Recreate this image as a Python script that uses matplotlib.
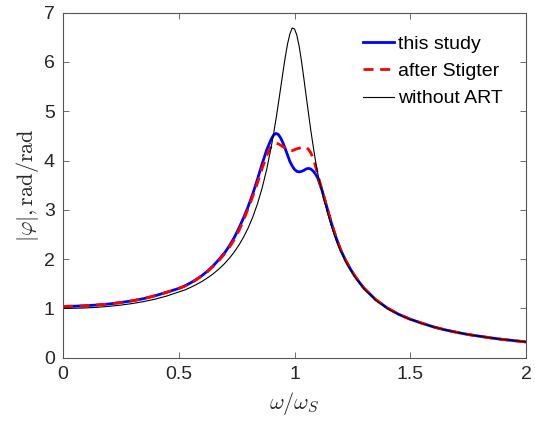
import numpy as np
import matplotlib
matplotlib.use('Agg')
import matplotlib.pyplot as plt

plt.rcParams['font.family'] = ['Liberation Sans', 'DejaVu Sans']
plt.rcParams['mathtext.fontset'] = 'cm'

# frequency ratio omega/omega_S
freq = [0.00, 0.05, 0.10, 0.15, 0.20, 0.25, 0.30, 0.35, 0.40, 0.45, 0.50,
        0.525, 0.55, 0.575, 0.60, 0.625, 0.65, 0.675, 0.70,
        0.72, 0.74, 0.76, 0.78, 0.80, 0.82, 0.84, 0.86, 0.88,
        0.90, 0.91, 0.92, 0.93, 0.94, 0.95, 0.96, 0.97, 0.98, 0.99, 1.00,
        1.01, 1.02, 1.03, 1.04, 1.05, 1.06, 1.07, 1.08, 1.09, 1.10,
        1.12, 1.14, 1.16, 1.18, 1.20, 1.22, 1.24, 1.26, 1.28, 1.30,
        1.35, 1.40, 1.45, 1.50, 1.55, 1.60, 1.65, 1.70, 1.75, 1.80, 1.85, 1.90, 1.95, 2.00]

# |phi|
this_study = [1.04, 1.045, 1.055, 1.07, 1.09, 1.12, 1.155, 1.20, 1.26, 1.33, 1.405,
              1.455, 1.515, 1.585, 1.665, 1.76, 1.87, 2.00, 2.14,
              2.28, 2.44, 2.63, 2.84, 3.07, 3.33, 3.62, 3.93, 4.22,
              4.44, 4.52, 4.55, 4.53, 4.46, 4.36, 4.24, 4.11, 3.98, 3.89, 3.82,
              3.78, 3.77, 3.78, 3.80, 3.83, 3.84, 3.83, 3.79, 3.73, 3.65,
              3.38, 3.05, 2.72, 2.43, 2.18, 1.98, 1.81, 1.66, 1.53, 1.41,
              1.18, 1.01, 0.88, 0.78, 0.70, 0.625, 0.565, 0.515, 0.47, 0.435, 0.40, 0.37, 0.345, 0.32]

after_stigter = [1.04, 1.045, 1.055, 1.07, 1.09, 1.12, 1.155, 1.20, 1.26, 1.33, 1.405,
                 1.45, 1.51, 1.58, 1.66, 1.75, 1.86, 1.98, 2.12,
                 2.25, 2.40, 2.58, 2.79, 3.03, 3.28, 3.55, 3.84, 4.10,
                 4.30, 4.33, 4.35, 4.34, 4.31, 4.28, 4.25, 4.22, 4.20, 4.20, 4.22,
                 4.24, 4.25, 4.27, 4.28, 4.27, 4.23, 4.16, 4.05, 3.90, 3.72,
                 3.38, 3.05, 2.72, 2.43, 2.18, 1.98, 1.81, 1.66, 1.53, 1.41,
                 1.18, 1.01, 0.88, 0.78, 0.70, 0.625, 0.565, 0.515, 0.47, 0.435, 0.40, 0.37, 0.345, 0.32]

without_art = [1.00, 1.003, 1.01, 1.023, 1.042, 1.067, 1.099, 1.14, 1.19, 1.254, 1.333,
               1.372, 1.424, 1.482, 1.547, 1.622, 1.707, 1.806, 1.92,
               2.026, 2.147, 2.286, 2.447, 2.635, 2.858, 3.123, 3.441, 3.826,
               4.29, 4.556, 4.843, 5.149, 5.47, 5.79, 6.10, 6.37, 6.57, 6.69, 6.67,
               6.544, 6.32, 6.02, 5.68, 5.32, 4.97, 4.625, 4.31, 4.013, 3.75,
               3.33, 2.98, 2.66, 2.38, 2.15, 1.96, 1.79, 1.645, 1.515, 1.40,
               1.17, 1.00, 0.875, 0.775, 0.695, 0.625, 0.565, 0.515, 0.47, 0.435, 0.40, 0.37, 0.345, 0.32]

fig = plt.figure(figsize=(5.35, 4.28), dpi=100)
ax = fig.add_axes([0.1178, 0.1643, 0.8654, 0.806])

ax.plot(freq, this_study, color='#0000ff', lw=2.0, label='this study')
ax.plot(freq, after_stigter, color='#ff0000', lw=2.0, ls=(0, (3.6, 2.4)), label='after Stigter')
ax.plot(freq, without_art, color='black', lw=0.8, label='without ART')

ax.set_xlim(0, 2)
ax.set_ylim(0, 7)
ax.set_xticks([0, 0.5, 1, 1.5, 2])
ax.set_xticklabels(['0', '0.5', '1', '1.5', '2'])
ax.set_yticks(range(8))

axis_col = '#262626'
for s in ax.spines.values():
    s.set_color('#555555')
    s.set_linewidth(0.8)
ax.tick_params(direction='in', top=True, right=True, length=4, width=0.6,
               colors='#555555', labelcolor=axis_col, labelsize=14, pad=6)

ax.set_xlabel(r'$\omega/\omega_S$', fontsize=16, color=axis_col, labelpad=5)
ax.set_ylabel(r'$|\varphi|, \mathrm{rad/rad}$', fontsize=16, color=axis_col, labelpad=2)

ax.legend(loc='upper left', bbox_to_anchor=(0.648, 0.935), frameon=False, fontsize=14,
          handlelength=1.6, handletextpad=0.2, labelspacing=0.5, borderpad=0, borderaxespad=0)

fig.savefig('out.png', dpi=100)
